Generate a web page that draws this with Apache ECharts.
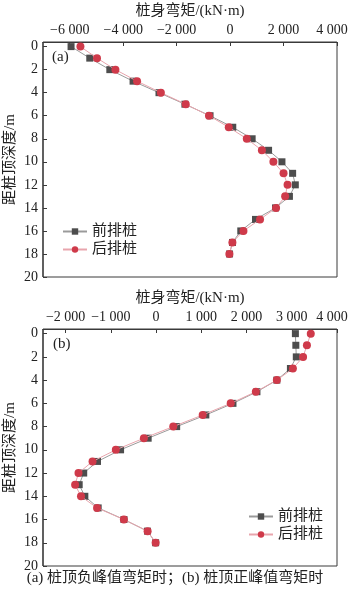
<!DOCTYPE html>
<html><head><meta charset="utf-8">
<script src="https://cdn.jsdelivr.net/npm/echarts@6/dist/echarts.min.js"></script>
<style>html,body{margin:0;padding:0;background:#fff}#c{width:350px;height:592px}</style>
</head><body><div id="c"></div>
<script>
const depths = [0,1,2,3,4,5,6,7,8,9,10,11,12,13,14,15,16,17,18];
const frontA = [-5950,-5250,-4500,-3630,-2660,-1690,-750,100,825,1440,1940,2340,2440,2220,1700,950,400,90,-20];
const rearA  = [-5600,-4980,-4290,-3480,-2590,-1660,-790,-50,625,1190,1620,2000,2150,2060,1720,1120,500,86,-27];
const frontB = [3080,3090,3100,2970,2670,2230,1700,1100,455,-175,-785,-1295,-1600,-1700,-1575,-1280,-710,-190,-10];
const rearB  = [3420,3335,3250,3025,2670,2205,1650,1030,380,-270,-890,-1405,-1715,-1790,-1660,-1305,-712,-187,-10];
const xTicksA = [-6000,-4000,-2000,0,2000,4000];
const xTicksB = [-2000,-1000,0,1000,2000,3000,4000];
const yTicks = [0,2,4,6,8,10,12,14,16,18,20];
const names = ['前排桩','后排桩'];
const xTitle = '桩身弯矩/(kN·m)';
const yTitle = '距桩顶深度/m';
const caption = '(a) 桩顶负峰值弯矩时；(b) 桩顶正峰值弯矩时';

const FF = "'Liberation Serif','Noto Sans CJK SC',serif";
const AX = '#3a3a3a';
const xRangeA = [-7000,4000], xRangeB = [-2500,4000], yRange = [-0.4,20];
function fmt(v){
  const s = Math.abs(v).toString();
  const t = s.length>3 ? s.slice(0,s.length-3)+' '+s.slice(s.length-3) : s;
  return (v<0?'\u2212':'')+t;
}
function xAxis(gi, rng, ticks){
  return {
    type:'value', gridIndex:gi, position:'top', min:rng[0], max:rng[1],
    name:xTitle, nameLocation:'middle', nameGap:23, nameMoveOverlap:false,
    nameTextStyle:{fontFamily:FF,fontSize:15,color:'#222'},
    axisLine:{show:true,onZero:false,lineStyle:{color:AX,width:1}},
    axisTick:{show:true,inside:true,length:4,customValues:ticks,lineStyle:{color:AX}},
    axisLabel:{show:true,margin:5,customValues:ticks,fontFamily:FF,fontSize:14,color:'#222',
      formatter:(v)=> v===4000 ? '{r|'+fmt(v)+'}' : fmt(v),
      rich:{r:{fontFamily:FF,fontSize:14,color:'#222',padding:[0,10,0,0]}}},
    splitLine:{show:false}
  };
}
function yAxis(gi){
  return {
    type:'value', gridIndex:gi, inverse:true, min:yRange[0], max:yRange[1], position:'left',
    name:yTitle, nameLocation:'middle', nameGap:25, nameMoveOverlap:false,
    nameTextStyle:{fontFamily:FF,fontSize:15,color:'#222'},
    axisLine:{show:false,onZero:false},
    axisTick:{show:true,inside:true,length:4,customValues:yTicks,lineStyle:{color:AX}},
    axisLabel:{show:true,margin:5,customValues:yTicks,fontFamily:FF,fontSize:14,color:'#222'},
    splitLine:{show:false}
  };
}
function ser(name, xs, gi, front){
  return {
    type:'line', name:name, xAxisIndex:gi, yAxisIndex:gi,
    data: xs.map((v,i)=>[v,depths[i]]),
    symbol: front?'rect':'circle', symbolSize: front?7:8,
    itemStyle:{color: front?'#4d4d4d':'#cf3a4a'},
    lineStyle:{color: front?'#9a9a9a':'#e8a5ad', width:1},
    z: front?2:3, animation:false
  };
}
function leftEdge(gi, xr){
  return {
    type:'line', name:'edge'+gi, xAxisIndex:gi, yAxisIndex:gi,
    data:[[xr[0],yRange[0]],[xr[0],yRange[1]]],
    symbol:'none', silent:true, clip:false, z:10, animation:false,
    lineStyle:{color:AX,width:1.2}, tooltip:{show:false}
  };
}
function legend(left, top){
  return {
    orient:'vertical', left:left, top:top, itemGap:3, itemWidth:24, itemHeight:8,
    data:names, textStyle:{fontFamily:FF,fontSize:15,color:'#222'}, padding:0
  };
}
const chart = echarts.init(document.getElementById('c'));
chart.setOption({
  animation:false,
  grid:[
    {left:43,top:42,width:294,height:235,show:true,borderColor:AX,borderWidth:1,backgroundColor:'transparent',containLabel:false,outerBoundsMode:'none'},
    {left:43,top:329,width:294,height:237,show:true,borderColor:AX,borderWidth:1,backgroundColor:'transparent',containLabel:false,outerBoundsMode:'none'}
  ],
  xAxis:[xAxis(0,xRangeA,xTicksA), xAxis(1,xRangeB,xTicksB)],
  yAxis:[yAxis(0), yAxis(1)],
  legend:[legend(62,224), legend(248,509)],
  series:[
    ser(names[0],frontA,0,true), ser(names[1],rearA,0,false),
    ser(names[0],frontB,1,true), ser(names[1],rearB,1,false),
    leftEdge(0,xRangeA), leftEdge(1,xRangeB)
  ],
  graphic:[
    {type:'text',left:52,top:50,style:{text:'(a)',font:'15px '+FF,fill:'#222'}},
    {type:'text',left:53,top:337,style:{text:'(b)',font:'15px '+FF,fill:'#222'}},
    {type:'text',left:'center',top:571,style:{text:caption,font:'15px '+FF,fill:'#222'}}
  ]
});
</script></body></html>
